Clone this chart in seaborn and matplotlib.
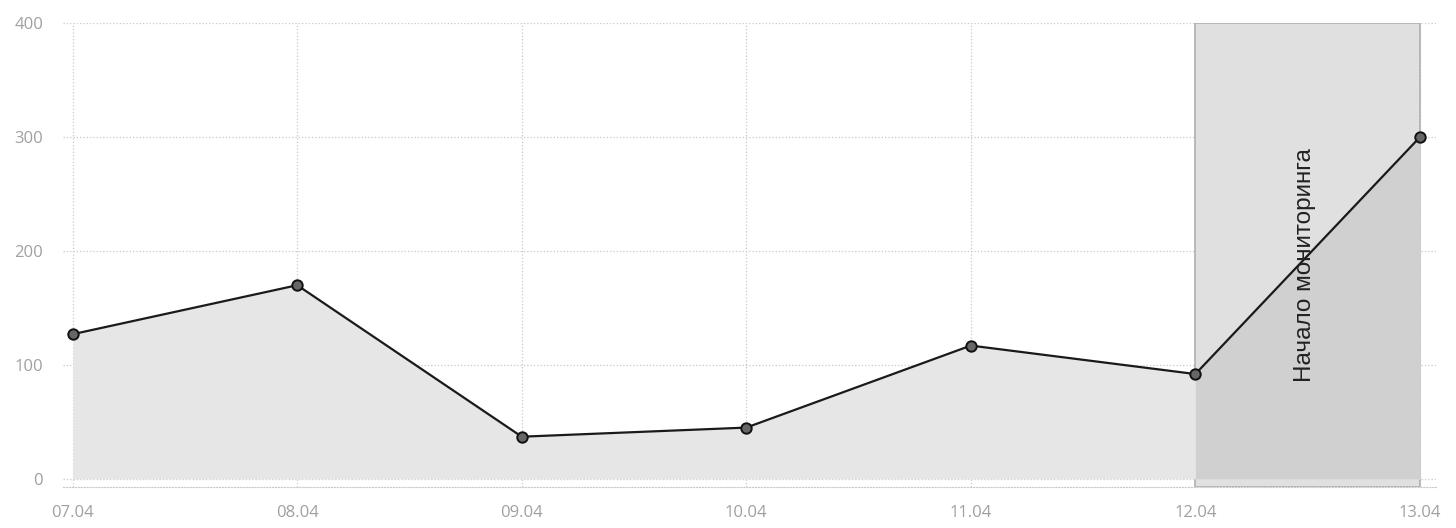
import pandas as pd
import numpy as np
import matplotlib
matplotlib.use('Agg')
import matplotlib.pyplot as plt
import seaborn as sns

# Data
dates = ['07.04', '08.04', '09.04', '10.04', '11.04', '12.04', '13.04']
values = [127, 170, 37, 45, 117, 92, 300]
y_ticks = [0, 100, 200, 300, 400]
monitor_start = '12.04'
monitor_end = '13.04'
monitor_label = 'Начало мониторинга'

df = pd.DataFrame({'date': dates, 'value': values})
df['pos'] = np.arange(len(dates))

sns.set_style('white')
plt.rcParams['font.family'] = ['Open Sans', 'DejaVu Sans']

fig = plt.figure(figsize=(14.56, 5.28), dpi=100)
ax = fig.add_axes([0.043, 0.078, 0.943, 0.878])

# shaded monitoring period
x0 = dates.index(monitor_start)
x1 = dates.index(monitor_end)
ax.axvspan(x0, x1, facecolor='#e0e0e0', edgecolor='#b0b0b0', lw=1.2, zorder=1)

# area under the line
ax.fill_between(df['pos'], df['value'], 0, color='#e6e6e6', zorder=1.5, lw=0)
mask = df['pos'] >= x0
ax.fill_between(df['pos'][mask], df['value'][mask], 0, color='#d0d0d0', zorder=1.6, lw=0)

sns.lineplot(data=df, x='pos', y='value', ax=ax, color='#1a1a1a', lw=1.6,
             marker='o', markersize=7.5, markerfacecolor='#666666',
             markeredgecolor='#111111', markeredgewidth=1.4, zorder=3)

ax.text((x0 + x1) / 2 - 0.01, 188, monitor_label, rotation=90, ha='center', va='center',
        fontsize=17.5, color='#222222', family=['Liberation Sans', 'DejaVu Sans'], zorder=4)

ax.set_xlim(-0.045, 6.07)
ax.set_ylim(-7, 400)
ax.set_xticks(df['pos'])
ax.set_xticklabels(dates)
ax.set_yticks(y_ticks)
ax.grid(True, color='#c8c8c8', ls=':', lw=0.9)
ax.set_axisbelow(True)
for s in ['top', 'right', 'left']:
    ax.spines[s].set_visible(False)
ax.spines['bottom'].set_linestyle(':')
ax.spines['bottom'].set_color('#c8c8c8')
ax.tick_params(axis='x', length=7, color='#dddddd', colors='#a0a0a0', labelsize=12, pad=6)
ax.tick_params(axis='y', length=0, colors='#a0a0a0', labelsize=12, pad=14)
ax.set_xlabel('')
ax.set_ylabel('')

fig.savefig('out.png', dpi=100)
